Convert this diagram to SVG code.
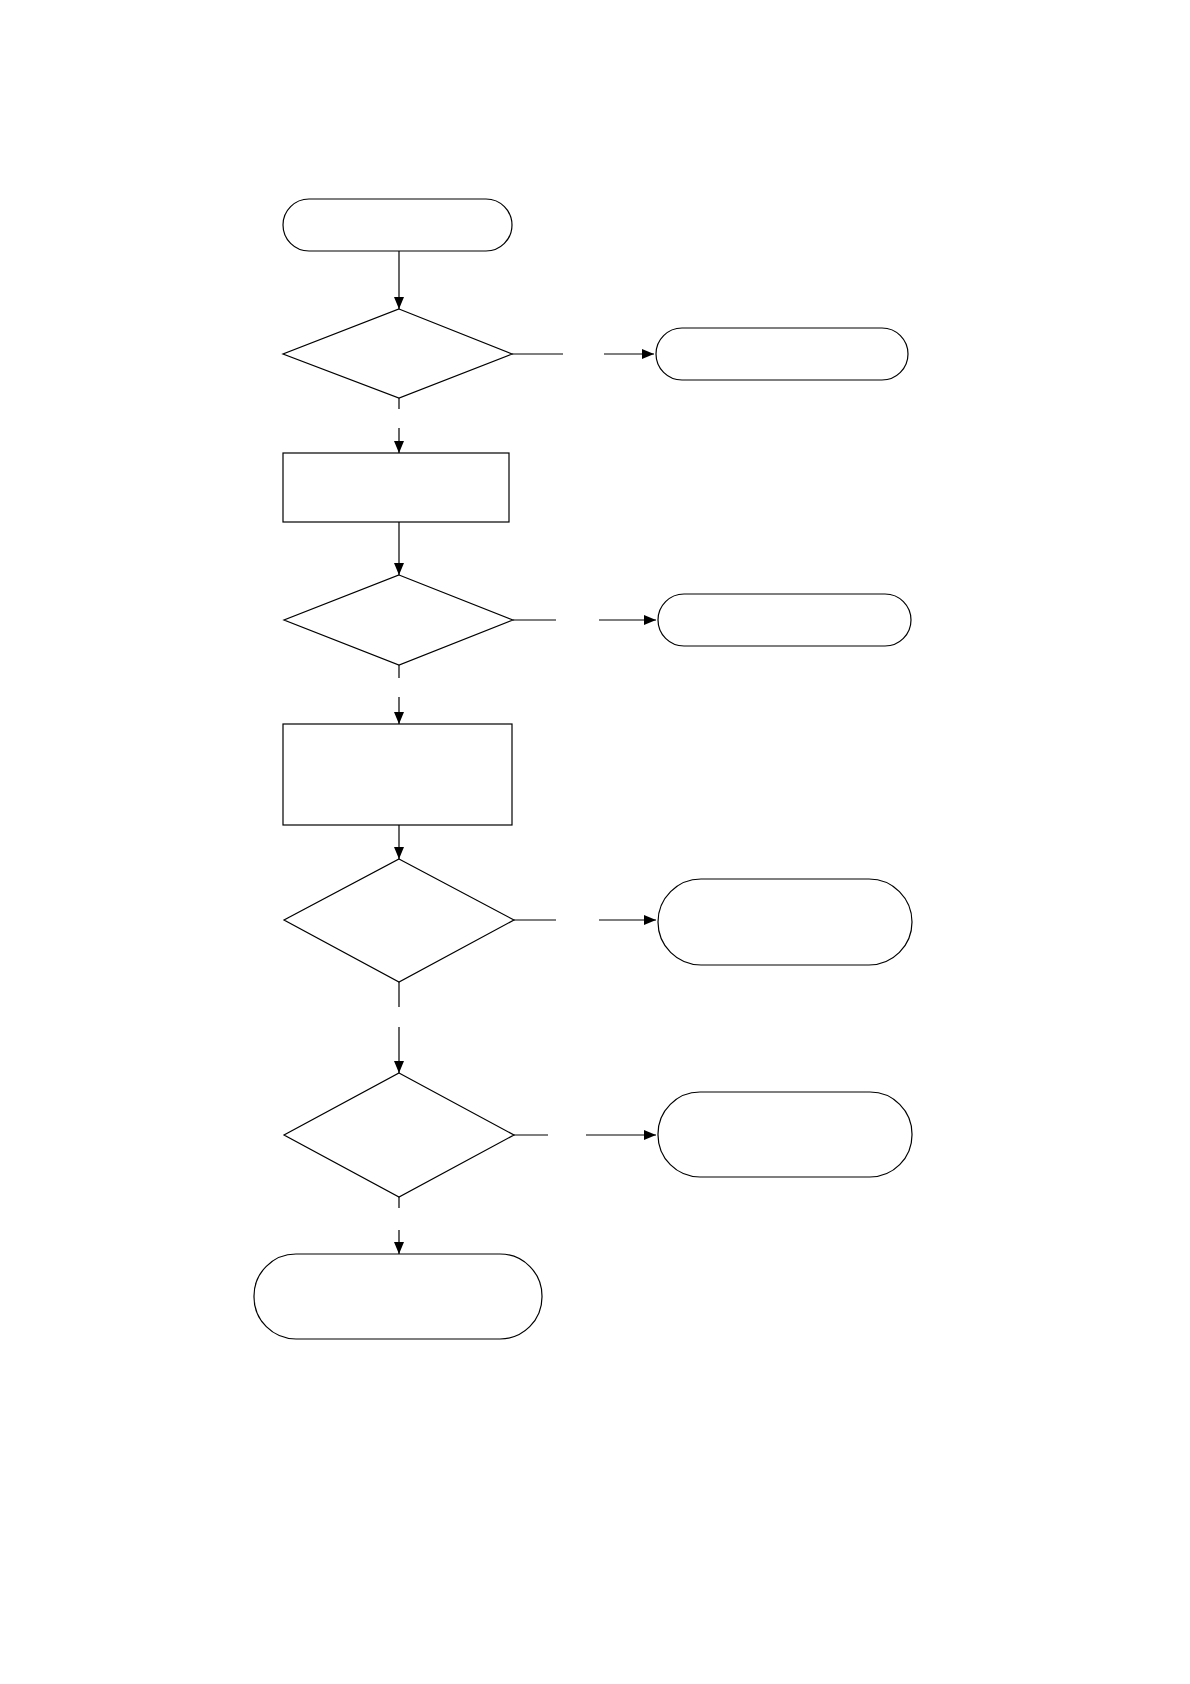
<svg xmlns="http://www.w3.org/2000/svg" width="1190" height="1684" viewBox="0 0 1190 1684">
<style>
.s{fill:#fff;stroke:#000;stroke-width:1.2}
.c{fill:none;stroke:#000;stroke-width:1.2}
</style>
<defs><marker id="a" markerWidth="12" markerHeight="10" refX="12" refY="5" orient="auto" markerUnits="userSpaceOnUse"><path d="M0,0L12,5L0,10z" fill="#000"/></marker></defs>
<rect width="1190" height="1684" fill="#fff"/>
<g id="start"><rect class="s" x="283" y="199" width="229" height="52" rx="26"/></g>
<g id="d1"><polygon class="s" points="399,309 512,354 399,398 283,354"/></g>
<g id="t1"><rect class="s" x="656" y="328" width="252" height="52" rx="26"/></g>
<g id="r1"><rect class="s" x="283" y="453" width="226" height="69"/></g>
<g id="d2"><polygon class="s" points="399,575 513,620 399,665 284,620"/></g>
<g id="t2"><rect class="s" x="658" y="594" width="253" height="52" rx="26"/></g>
<g id="r2"><rect class="s" x="283" y="724" width="229" height="101"/></g>
<g id="d3"><polygon class="s" points="399,859 514,920 399,982 284,920"/></g>
<g id="t3"><rect class="s" x="658" y="879" width="254" height="86" rx="43"/></g>
<g id="d4"><polygon class="s" points="399,1073 514,1135 399,1197 284,1135"/></g>
<g id="t4"><rect class="s" x="658" y="1092" width="254" height="85" rx="42"/></g>
<g id="end"><rect class="s" x="254" y="1254" width="288" height="85" rx="42"/></g>
<g id="connectors">
<path class="c" d="M399,251V309" marker-end="url(#a)"/>
<path class="c" d="M512,354H563M604,354H654" marker-end="url(#a)"/>
<path class="c" d="M399,398V409M399,428V453" marker-end="url(#a)"/>
<path class="c" d="M399,522V575" marker-end="url(#a)"/>
<path class="c" d="M513,620H556M599,620H656" marker-end="url(#a)"/>
<path class="c" d="M399,665V678M399,697V724" marker-end="url(#a)"/>
<path class="c" d="M399,825V859" marker-end="url(#a)"/>
<path class="c" d="M514,920H556M599,920H656" marker-end="url(#a)"/>
<path class="c" d="M399,982V1007M399,1027V1073" marker-end="url(#a)"/>
<path class="c" d="M514,1135H548M586,1135H656" marker-end="url(#a)"/>
<path class="c" d="M399,1197V1208M399,1230V1254" marker-end="url(#a)"/>
</g>
</svg>
